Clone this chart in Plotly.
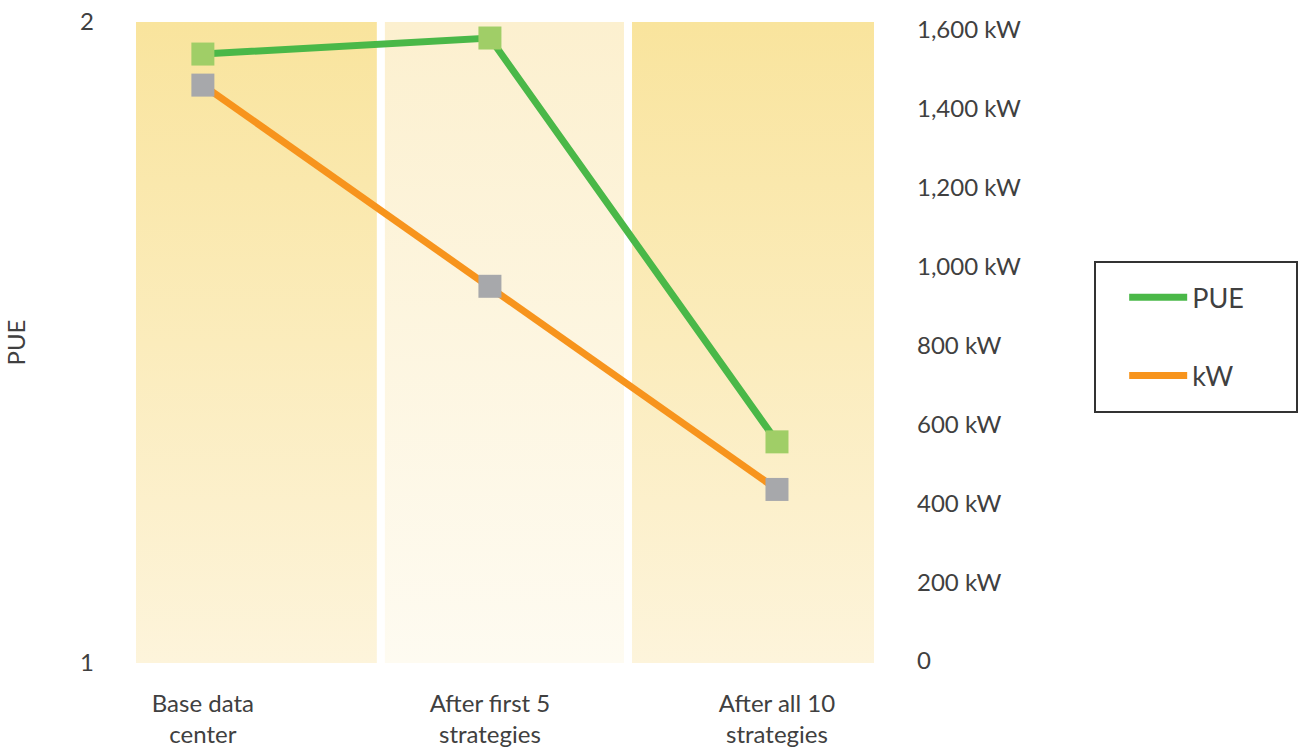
import plotly.graph_objects as go

# ---- data ----
categories = ["Base data<br>center", "After first 5<br>strategies", "After all 10<br>strategies"]
pue_values = [1.95, 1.975, 1.345]
kw_values = [1460, 950, 435]
kw_ticks = [0, 200, 400, 600, 800, 1000, 1200, 1400, 1600]
kw_tick_labels = ["0", "200 kW", "400 kW", "600 kW", "800 kW", "1,000 kW", "1,200 kW", "1,400 kW", "1,600 kW"]

# ---- style ----
FONT = "Lato"
TXT = "#404040"
GREEN_LINE = "#4AB848"
GREEN_MARK = "#A0CE67"
ORANGE_LINE = "#F7941D"
GREY_MARK = "#A7A8AB"

x_pos = list(range(len(categories)))
x_range = [-0.233, 2.338]

# background panels (decoration): x extents and gradient colours (bottom, top)
panel_edges = [(-0.233, 0.606), (0.634, 1.467), (1.495, 2.338)]
panel_colors = [("#FDF4DB", "#F9E49D"), ("#FEFBF1", "#FCF0CF"), ("#FDF4DB", "#F9E49D")]

fig = go.Figure()

for (x0, x1), (cb, ct) in zip(panel_edges, panel_colors):
    fig.add_trace(go.Scatter(
        x=[x0, x1, x1, x0, x0], y=[1, 1, 2, 2, 1],
        mode="lines", line=dict(width=0), fill="toself",
        fillgradient=dict(type="vertical", colorscale=[[0, cb], [1, ct]]),
        hoverinfo="skip", showlegend=False, xaxis="x", yaxis="y",
    ))

# PUE line (legend) + markers
fig.add_trace(go.Scatter(x=x_pos, y=pue_values, mode="lines", name="PUE",
                         line=dict(color=GREEN_LINE, width=7), yaxis="y",
                         legendgroup="a"))
fig.add_trace(go.Scatter(x=x_pos, y=pue_values, mode="markers", showlegend=False,
                         marker=dict(symbol="square", size=23, color=GREEN_MARK), yaxis="y"))

# kW line (legend) + markers
fig.add_trace(go.Scatter(x=x_pos, y=kw_values, mode="lines", name="kW",
                         line=dict(color=ORANGE_LINE, width=7), yaxis="y2",
                         legendgroup="b"))
fig.add_trace(go.Scatter(x=x_pos, y=kw_values, mode="markers", showlegend=False,
                         marker=dict(symbol="square", size=23, color=GREY_MARK), yaxis="y2"))

fig.update_layout(
    width=1300, height=751,
    margin=dict(l=136, r=426, t=22, b=88, autoexpand=False),
    paper_bgcolor="white", plot_bgcolor="white",
    font=dict(family=FONT, size=24, color=TXT),
    xaxis=dict(range=x_range, tickvals=x_pos, ticktext=categories,
               showgrid=False, zeroline=False, showline=False, ticks="",
               automargin=False,
               ticklabelstandoff=24, tickfont=dict(size=24, color=TXT)),
    yaxis=dict(range=[1, 2], tickvals=[1, 2], ticktext=["1", "2"],
               showgrid=False, zeroline=False, showline=False, ticks="",
               automargin=False, ticklabelstandoff=41, ticklabeloverflow="allow",
               title=dict(text="PUE", standoff=47, font=dict(size=24, color=TXT))),
    yaxis2=dict(range=[-5, 1620], overlaying="y", side="right",
                tickvals=kw_ticks, ticktext=kw_tick_labels,
                showgrid=False, zeroline=False, showline=False, ticks="",
                automargin=False, ticklabelstandoff=42, ticklabeloverflow="allow"),
    showlegend=True,
    legend=dict(x=1.339, y=0.608, xanchor="left", yanchor="top",
                bgcolor="rgba(0,0,0,0)", borderwidth=0,
                font=dict(size=27, color=TXT), itemwidth=58,
                traceorder="grouped", tracegroupgap=40),
    shapes=[dict(type="rect", xref="paper", yref="paper",
                 x0=(1095 - 136) / 738, x1=(1297 - 136) / 738,
                 y0=(663 - 412) / 641, y1=(663 - 262) / 641,
                 line=dict(color="#333333", width=2), fillcolor="rgba(0,0,0,0)")],
)

fig.write_html("out.html", config={"displayModeBar": False},
               post_script="document.body.style.margin='0';")
